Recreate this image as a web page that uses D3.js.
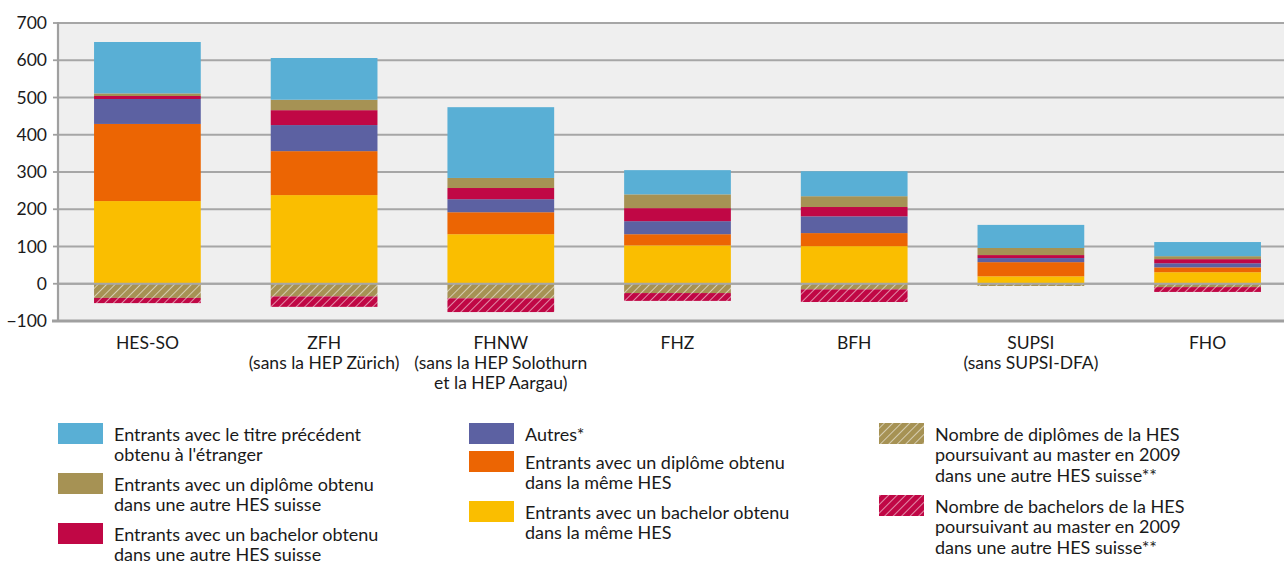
<!DOCTYPE html>
<html><head><meta charset="utf-8">
<script src="https://cdn.jsdelivr.net/npm/d3@7"></script>
<style>
html,body{margin:0;padding:0;background:#fff;}
svg{display:block;font-family:"Lato","Open Sans",sans-serif;}
</style></head>
<body><svg id="c" width="1284" height="564"></svg>
<script>
const categories = [
  ["HES-SO"],
  ["ZFH","(sans la HEP Zürich)"],
  ["FHNW","(sans la HEP Solothurn","et la HEP Aargau)"],
  ["FHZ"],
  ["BFH"],
  ["SUPSI","(sans SUPSI-DFA)"],
  ["FHO"]
];
const bachelorSame = [222, 238, 133, 103, 101, 20, 31];
const diplomeSame  = [207, 118, 59, 30, 35, 38, 13];
const autres       = [67, 70, 35, 35, 45, 11, 11];
const bachelorAutre= [8, 40, 30, 35, 25, 8, 11];
const diplomeAutre = [7, 28, 27, 37, 29, 19, 8];
const etranger     = [138, 112, 190, 65, 67, 62, 38];
const negDiplomes  = [-38, -34, -39, -25, -15, -6, -9];
const negBachelors = [-14, -28, -37, -21, -34, 0, -13];
const yTicks = [-100, 0, 100, 200, 300, 400, 500, 600, 700];

const colors = {
  blue:"#59AFD5", brown:"#A69254", red:"#C00745", purple:"#5C61A2", orange:"#EC6503", yellow:"#FABE00"
};
const posSeries = [
  {vals:bachelorSame, color:colors.yellow},
  {vals:diplomeSame, color:colors.orange},
  {vals:autres, color:colors.purple},
  {vals:bachelorAutre, color:colors.red},
  {vals:diplomeAutre, color:colors.brown},
  {vals:etranger, color:colors.blue}
];
const negSeries = [
  {vals:negDiplomes, color:colors.brown, pat:"hatchBrown"},
  {vals:negBachelors, color:colors.red, pat:"hatchRed"}
];

const svg = d3.select("#c");
const L = 58, R = 1284, T = 23, B = 321;
const x = d3.scaleBand().domain(d3.range(categories.length)).range([L, 1297]).paddingInner(0.396).paddingOuter(0.204);
const y = d3.scaleLinear().domain([-100, 700]).range([B, T]);

const defs = svg.append("defs");
[["hatchBrown", colors.brown], ["hatchRed", colors.red]].forEach(([id, c]) => {
  const p = defs.append("pattern").attr("id", id).attr("patternUnits","userSpaceOnUse")
    .attr("width", 6).attr("height", 6).attr("patternTransform","rotate(45)");
  p.append("rect").attr("width",6).attr("height",6).attr("fill",c);
  p.append("line").attr("x1",0).attr("y1",0).attr("x2",0).attr("y2",6).attr("stroke","#fff").attr("stroke-width",1.1);
});

svg.append("rect").attr("x", L).attr("y", T).attr("width", R - L).attr("height", B - T).attr("fill", "#EFEFEF");

// gridlines
svg.append("g").selectAll("line").data(yTicks.filter(d => d > -100)).join("line")
  .attr("x1", L).attr("x2", R).attr("y1", d => y(d)).attr("y2", d => y(d))
  .attr("stroke", "#A6A6A6").attr("stroke-width", 1.8);

// y axis labels
const yAxis = d3.axisLeft(y).tickValues(yTicks).tickSize(0).tickPadding(11);
const ga = svg.append("g").attr("transform", `translate(${L},0)`).call(yAxis);
ga.select(".domain").remove();
ga.selectAll("text").attr("font-size", 17.5).attr("fill", "#1a1a1a").attr("font-family","Lato, 'Open Sans', sans-serif");

// bars
categories.forEach((c, i) => {
  let acc = 0;
  posSeries.forEach(s => {
    const v = s.vals[i];
    svg.append("rect").attr("x", x(i)).attr("width", x.bandwidth())
      .attr("y", y(acc + v)).attr("height", y(acc) - y(acc + v)).attr("fill", s.color);
    acc += v;
  });
  let nacc = 0;
  negSeries.forEach(s => {
    const v = s.vals[i];
    if (v === 0) return;
    svg.append("rect").attr("x", x(i)).attr("width", x.bandwidth())
      .attr("y", y(nacc)).attr("height", y(nacc + v) - y(nacc)).attr("fill", `url(#${s.pat})`);
    nacc += v;
  });
});

// zero line on top
svg.append("line").attr("x1", L).attr("x2", R).attr("y1", y(0)).attr("y2", y(0))
  .attr("stroke", "#A6A6A6").attr("stroke-width", 1.8);

// axes lines
svg.append("line").attr("x1", L).attr("x2", L).attr("y1", T - 1).attr("y2", B + 1)
  .attr("stroke", "#A0A0A0").attr("stroke-width", 2.2);
yTicks.forEach(t => {
  svg.append("line").attr("x1", L - 5).attr("x2", L).attr("y1", y(t)).attr("y2", y(t))
    .attr("stroke", "#A0A0A0").attr("stroke-width", 1.8);
});
svg.append("line").attr("x1", L - 6).attr("x2", R).attr("y1", B).attr("y2", B)
  .attr("stroke", "#A0A0A0").attr("stroke-width", 3);

// category labels
const gx = svg.append("g");
categories.forEach((lines, i) => {
  const cx = x(i) + x.bandwidth() / 2;
  const t = gx.append("text").attr("x", cx).attr("y", 349)
    .attr("text-anchor", "middle").attr("font-size", 17.5).attr("fill", "#1a1a1a");
  lines.forEach((ln, k) => t.append("tspan").attr("x", cx).attr("dy", k === 0 ? 0 : 20).text(ln));
});

// legend
const legend = [
  {x:58, y:423, fill:colors.blue, lines:["Entrants avec le titre précédent","obtenu à l'étranger"]},
  {x:58, y:473, fill:colors.brown, lines:["Entrants avec un diplôme obtenu","dans une autre HES suisse"]},
  {x:58, y:523, fill:colors.red, lines:["Entrants avec un bachelor obtenu","dans une autre HES suisse"]},
  {x:469, y:423, fill:colors.purple, lines:["Autres*"]},
  {x:469, y:451, fill:colors.orange, lines:["Entrants avec un diplôme obtenu","dans la même HES"]},
  {x:469, y:501, fill:colors.yellow, lines:["Entrants avec un bachelor obtenu","dans la même HES"]},
  {x:879, y:423, fill:"url(#hatchBrown)", lines:["Nombre de diplômes de la HES","poursuivant au master en 2009","dans une autre HES suisse**"]},
  {x:879, y:495, fill:"url(#hatchRed)", lines:["Nombre de bachelors de la HES","poursuivant au master en 2009","dans une autre HES suisse**"]}
];
const lg = svg.append("g");
legend.forEach(d => {
  lg.append("rect").attr("x", d.x).attr("y", d.y).attr("width", 45).attr("height", 21).attr("fill", d.fill);
  const t = lg.append("text").attr("x", d.x + 56).attr("y", d.y + 17.5).attr("font-size", 18).attr("fill", "#1a1a1a");
  d.lines.forEach((ln, k) => t.append("tspan").attr("x", d.x + 56).attr("dy", k === 0 ? 0 : 20.5).text(ln));
});
</script></body></html>
